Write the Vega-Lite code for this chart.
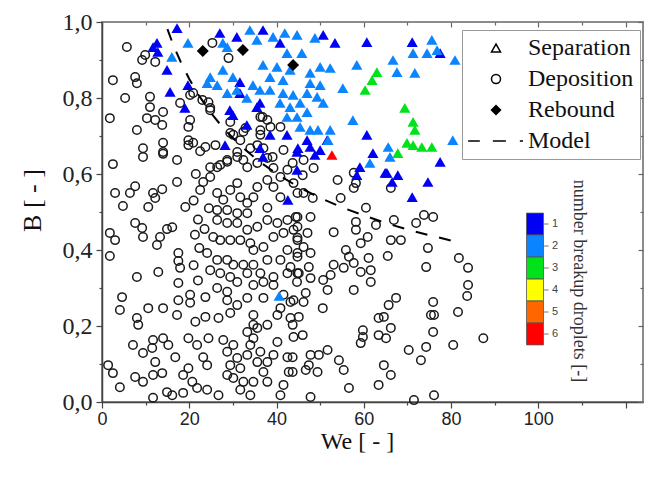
{
  "$schema": "https://vega.github.io/schema/vega-lite/v6.json",
  "width": 541,
  "height": 380,
  "autosize": {"type": "none"},
  "padding": {"left": 102, "top": 22, "right": 2, "bottom": 84},
  "background": "white",
  "config": {"view": {"stroke": "#8c8c8c", "strokeWidth": 2}},
  "datasets": {
    "circles": [
      {"t":"Deposition","we":9.4,"b":0.645},{"t":"Deposition","we":14.0,"b":0.653},{"t":"Deposition","we":17.2,"b":0.637},{"t":"Deposition","we":2.5,"b":0.626},{"t":"Deposition","we":17.2,"b":0.579},{"t":"Deposition","we":3.0,"b":0.55},{"t":"Deposition","we":7.6,"b":0.568},{"t":"Deposition","we":6.4,"b":0.55},{"t":"Deposition","we":11.7,"b":0.55},{"t":"Deposition","we":13.8,"b":0.56},{"t":"Deposition","we":12.2,"b":0.537},{"t":"Deposition","we":4.8,"b":0.516},{"t":"Deposition","we":10.6,"b":0.513},{"t":"Deposition","we":19.1,"b":0.513},{"t":"Deposition","we":7.6,"b":0.471},{"t":"Deposition","we":9.2,"b":0.458},{"t":"Deposition","we":9.4,"b":0.434},{"t":"Deposition","we":14.9,"b":0.455},{"t":"Deposition","we":16.1,"b":0.46},{"t":"Deposition","we":13.3,"b":0.434},{"t":"Deposition","we":12.6,"b":0.413},{"t":"Deposition","we":1.8,"b":0.445},{"t":"Deposition","we":3.0,"b":0.426},{"t":"Deposition","we":1.8,"b":0.384},{"t":"Deposition","we":17.5,"b":0.392},{"t":"Deposition","we":17.5,"b":0.371},{"t":"Deposition","we":17.9,"b":0.353},{"t":"Deposition","we":12.9,"b":0.342},{"t":"Deposition","we":8.0,"b":0.329},
      {"t":"Deposition","we":22.5,"b":0.558},{"t":"Deposition","we":23.2,"b":0.579},{"t":"Deposition","we":24.8,"b":0.592},{"t":"Deposition","we":26.4,"b":0.618},{"t":"Deposition","we":28.7,"b":0.632},{"t":"Deposition","we":31.0,"b":0.645},{"t":"Deposition","we":33.3,"b":0.618},{"t":"Deposition","we":35.6,"b":0.629},{"t":"Deposition","we":37.9,"b":0.642},{"t":"Deposition","we":39.3,"b":0.616},{"t":"Deposition","we":40.9,"b":0.592},{"t":"Deposition","we":42.5,"b":0.611},{"t":"Deposition","we":37.9,"b":0.584},{"t":"Deposition","we":39.3,"b":0.566},{"t":"Deposition","we":40.9,"b":0.539},{"t":"Deposition","we":43.9,"b":0.576},{"t":"Deposition","we":44.8,"b":0.55},{"t":"Deposition","we":26.4,"b":0.55},{"t":"Deposition","we":27.8,"b":0.532},{"t":"Deposition","we":29.4,"b":0.558},{"t":"Deposition","we":31.0,"b":0.576},{"t":"Deposition","we":31.7,"b":0.539},{"t":"Deposition","we":33.3,"b":0.524},{"t":"Deposition","we":34.7,"b":0.539},{"t":"Deposition","we":35.6,"b":0.566},{"t":"Deposition","we":26.4,"b":0.505},{"t":"Deposition","we":28.7,"b":0.505},{"t":"Deposition","we":31.0,"b":0.497},{"t":"Deposition","we":33.3,"b":0.497},{"t":"Deposition","we":26.4,"b":0.479},{"t":"Deposition","we":28.7,"b":0.471},{"t":"Deposition","we":31.0,"b":0.471},{"t":"Deposition","we":33.3,"b":0.453},{"t":"Deposition","we":35.6,"b":0.461},{"t":"Deposition","we":37.9,"b":0.479},{"t":"Deposition","we":40.2,"b":0.471},{"t":"Deposition","we":42.5,"b":0.479},{"t":"Deposition","we":44.8,"b":0.487},{"t":"Deposition","we":37.9,"b":0.511},{"t":"Deposition","we":25.5,"b":0.434},{"t":"Deposition","we":27.1,"b":0.426},{"t":"Deposition","we":29.4,"b":0.426},{"t":"Deposition","we":31.7,"b":0.426},{"t":"Deposition","we":34.0,"b":0.418},{"t":"Deposition","we":34.7,"b":0.4},{"t":"Deposition","we":37.0,"b":0.408},{"t":"Deposition","we":39.3,"b":0.434},{"t":"Deposition","we":41.6,"b":0.445},{"t":"Deposition","we":43.9,"b":0.453},{"t":"Deposition","we":44.8,"b":0.426},{"t":"Deposition","we":42.5,"b":0.4},{"t":"Deposition","we":44.8,"b":0.392},{"t":"Deposition","we":24.1,"b":0.392},{"t":"Deposition","we":26.4,"b":0.374},{"t":"Deposition","we":28.7,"b":0.374},{"t":"Deposition","we":30.1,"b":0.361},{"t":"Deposition","we":32.4,"b":0.361},{"t":"Deposition","we":34.7,"b":0.361},{"t":"Deposition","we":37.9,"b":0.374},{"t":"Deposition","we":40.9,"b":0.374},{"t":"Deposition","we":43.2,"b":0.355},{"t":"Deposition","we":24.8,"b":0.347},{"t":"Deposition","we":27.1,"b":0.339},{"t":"Deposition","we":29.4,"b":0.329},{"t":"Deposition","we":33.3,"b":0.339},{"t":"Deposition","we":36.3,"b":0.339},{"t":"Deposition","we":39.3,"b":0.329},{"t":"Deposition","we":42.5,"b":0.339},{"t":"Deposition","we":44.8,"b":0.339},
      {"t":"Deposition","we":4.6,"b":0.276},{"t":"Deposition","we":4.1,"b":0.242},{"t":"Deposition","we":10.6,"b":0.247},{"t":"Deposition","we":14.0,"b":0.247},{"t":"Deposition","we":8.0,"b":0.221},{"t":"Deposition","we":8.3,"b":0.203},{"t":"Deposition","we":17.5,"b":0.313},{"t":"Deposition","we":17.5,"b":0.268},{"t":"Deposition","we":17.2,"b":0.229},{"t":"Deposition","we":20.2,"b":0.282},{"t":"Deposition","we":20.2,"b":0.261},{"t":"Deposition","we":23.7,"b":0.276},{"t":"Deposition","we":21.4,"b":0.211},{"t":"Deposition","we":23.7,"b":0.224},{"t":"Deposition","we":26.7,"b":0.221},{"t":"Deposition","we":26.4,"b":0.3},{"t":"Deposition","we":28.7,"b":0.268},{"t":"Deposition","we":28.7,"b":0.29},{"t":"Deposition","we":31.0,"b":0.255},{"t":"Deposition","we":29.4,"b":0.234},{"t":"Deposition","we":33.3,"b":0.274},{"t":"Deposition","we":34.7,"b":0.229},{"t":"Deposition","we":34.7,"b":0.203},{"t":"Deposition","we":37.0,"b":0.274},{"t":"Deposition","we":37.9,"b":0.203},{"t":"Deposition","we":40.2,"b":0.229},{"t":"Deposition","we":40.9,"b":0.247},{"t":"Deposition","we":41.6,"b":0.282},{"t":"Deposition","we":39.3,"b":0.308},{"t":"Deposition","we":43.2,"b":0.263},{"t":"Deposition","we":43.2,"b":0.221},{"t":"Deposition","we":43.7,"b":0.203},{"t":"Deposition","we":31.0,"b":0.316},{"t":"Deposition","we":34.7,"b":0.308},{"t":"Deposition","we":37.0,"b":0.316},{"t":"Deposition","we":7.1,"b":0.15},{"t":"Deposition","we":9.4,"b":0.129},{"t":"Deposition","we":11.5,"b":0.142},{"t":"Deposition","we":11.7,"b":0.163},{"t":"Deposition","we":14.0,"b":0.168},{"t":"Deposition","we":15.2,"b":0.15},{"t":"Deposition","we":12.2,"b":0.105},{"t":"Deposition","we":13.8,"b":0.076},{"t":"Deposition","we":11.7,"b":0.071},{"t":"Deposition","we":9.4,"b":0.053},{"t":"Deposition","we":7.6,"b":0.066},{"t":"Deposition","we":16.8,"b":0.118},{"t":"Deposition","we":4.1,"b":0.039},{"t":"Deposition","we":2.5,"b":0.076},{"t":"Deposition","we":1.4,"b":0.097},{"t":"Deposition","we":19.8,"b":0.168},{"t":"Deposition","we":21.8,"b":0.15},{"t":"Deposition","we":24.4,"b":0.168},{"t":"Deposition","we":23.2,"b":0.118},{"t":"Deposition","we":24.1,"b":0.097},{"t":"Deposition","we":19.8,"b":0.089},{"t":"Deposition","we":18.6,"b":0.071},{"t":"Deposition","we":20.7,"b":0.053},{"t":"Deposition","we":21.8,"b":0.037},{"t":"Deposition","we":18.6,"b":0.024},{"t":"Deposition","we":14.9,"b":0.026},{"t":"Deposition","we":16.1,"b":0.018},{"t":"Deposition","we":11.7,"b":0.011},{"t":"Deposition","we":26.7,"b":0.018},{"t":"Deposition","we":24.1,"b":0.032},{"t":"Deposition","we":27.8,"b":0.163},{"t":"Deposition","we":28.7,"b":0.132},{"t":"Deposition","we":30.1,"b":0.15},{"t":"Deposition","we":31.0,"b":0.116},{"t":"Deposition","we":31.7,"b":0.089},{"t":"Deposition","we":33.3,"b":0.124},{"t":"Deposition","we":34.0,"b":0.15},{"t":"Deposition","we":35.6,"b":0.105},{"t":"Deposition","we":36.3,"b":0.132},{"t":"Deposition","we":37.0,"b":0.079},{"t":"Deposition","we":37.9,"b":0.105},{"t":"Deposition","we":39.3,"b":0.124},{"t":"Deposition","we":40.2,"b":0.158},{"t":"Deposition","we":42.5,"b":0.118},{"t":"Deposition","we":42.8,"b":0.079},{"t":"Deposition","we":30.1,"b":0.063},{"t":"Deposition","we":32.4,"b":0.053},{"t":"Deposition","we":34.7,"b":0.053},{"t":"Deposition","we":37.9,"b":0.053},{"t":"Deposition","we":41.6,"b":0.045},{"t":"Deposition","we":31.7,"b":0.032},{"t":"Deposition","we":34.0,"b":0.018},{"t":"Deposition","we":40.9,"b":0.018},{"t":"Deposition","we":28.7,"b":0.071},{"t":"Deposition","we":29.4,"b":0.097},{"t":"Deposition","we":34.7,"b":0.168},{"t":"Deposition","we":35.6,"b":0.195},{"t":"Deposition","we":33.3,"b":0.184},
      {"t":"Deposition","we":46.2,"b":0.637},{"t":"Deposition","we":48.5,"b":0.616},{"t":"Deposition","we":46.0,"b":0.597},{"t":"Deposition","we":54.0,"b":0.584},{"t":"Deposition","we":57.7,"b":0.603},{"t":"Deposition","we":58.2,"b":0.576},{"t":"Deposition","we":57.7,"b":0.563},{"t":"Deposition","we":66.2,"b":0.563},{"t":"Deposition","we":54.7,"b":0.537},{"t":"Deposition","we":48.3,"b":0.537},{"t":"Deposition","we":46.2,"b":0.55},{"t":"Deposition","we":60.5,"b":0.511},{"t":"Deposition","we":58.2,"b":0.474},{"t":"Deposition","we":58.2,"b":0.453},{"t":"Deposition","we":62.8,"b":0.466},{"t":"Deposition","we":66.9,"b":0.479},{"t":"Deposition","we":72.0,"b":0.471},{"t":"Deposition","we":73.8,"b":0.492},{"t":"Deposition","we":75.9,"b":0.487},{"t":"Deposition","we":53.1,"b":0.447},{"t":"Deposition","we":66.2,"b":0.426},{"t":"Deposition","we":68.5,"b":0.426},{"t":"Deposition","we":60.9,"b":0.434},{"t":"Deposition","we":59.3,"b":0.418},{"t":"Deposition","we":74.7,"b":0.405},{"t":"Deposition","we":65.5,"b":0.384},{"t":"Deposition","we":61.1,"b":0.379},{"t":"Deposition","we":55.9,"b":0.4},{"t":"Deposition","we":56.6,"b":0.382},{"t":"Deposition","we":57.7,"b":0.366},{"t":"Deposition","we":74.3,"b":0.355},{"t":"Deposition","we":81.8,"b":0.379},{"t":"Deposition","we":83.9,"b":0.353},{"t":"Deposition","we":53.1,"b":0.361},{"t":"Deposition","we":55.4,"b":0.353},{"t":"Deposition","we":59.3,"b":0.342},{"t":"Deposition","we":61.6,"b":0.347},{"t":"Deposition","we":44.4,"b":0.487},{"t":"Deposition","we":44.8,"b":0.461},{"t":"Deposition","we":47.8,"b":0.487},{"t":"Deposition","we":47.1,"b":0.445},{"t":"Deposition","we":44.8,"b":0.432},{"t":"Deposition","we":46.2,"b":0.408},{"t":"Deposition","we":47.8,"b":0.392},{"t":"Deposition","we":44.8,"b":0.382},{"t":"Deposition","we":47.4,"b":0.355},{"t":"Deposition","we":45.1,"b":0.339},{"t":"Deposition","we":52.4,"b":0.334},{"t":"Deposition","we":47.8,"b":0.326},
      {"t":"Deposition","we":57.7,"b":0.295},{"t":"Deposition","we":61.6,"b":0.316},{"t":"Deposition","we":50.6,"b":0.247},{"t":"Deposition","we":51.7,"b":0.295},{"t":"Deposition","we":46.7,"b":0.287},{"t":"Deposition","we":46.2,"b":0.263},{"t":"Deposition","we":43.9,"b":0.268},{"t":"Deposition","we":45.1,"b":0.224},{"t":"Deposition","we":46.0,"b":0.176},{"t":"Deposition","we":43.9,"b":0.171},{"t":"Deposition","we":43.7,"b":0.118},{"t":"Deposition","we":43.7,"b":0.079},{"t":"Deposition","we":47.8,"b":0.124},{"t":"Deposition","we":49.7,"b":0.124},{"t":"Deposition","we":51.7,"b":0.137},{"t":"Deposition","we":47.4,"b":0.097},{"t":"Deposition","we":49.4,"b":0.079},{"t":"Deposition","we":46.7,"b":0.084},{"t":"Deposition","we":54.3,"b":0.11},{"t":"Deposition","we":55.4,"b":0.084},{"t":"Deposition","we":56.6,"b":0.037},{"t":"Deposition","we":47.8,"b":0.013},{"t":"Deposition","we":59.8,"b":0.189},{"t":"Deposition","we":59.8,"b":0.171},{"t":"Deposition","we":59.3,"b":0.155},{"t":"Deposition","we":63.4,"b":0.221},{"t":"Deposition","we":64.6,"b":0.224},{"t":"Deposition","we":65.7,"b":0.255},{"t":"Deposition","we":67.4,"b":0.274},{"t":"Deposition","we":66.2,"b":0.195},{"t":"Deposition","we":63.4,"b":0.176},{"t":"Deposition","we":65.1,"b":0.168},{"t":"Deposition","we":64.6,"b":0.097},{"t":"Deposition","we":66.2,"b":0.071},{"t":"Deposition","we":63.4,"b":0.045},{"t":"Deposition","we":70.3,"b":0.137},{"t":"Deposition","we":73.1,"b":0.11},{"t":"Deposition","we":74.3,"b":0.145},{"t":"Deposition","we":75.9,"b":0.263},{"t":"Deposition","we":75.4,"b":0.229},{"t":"Deposition","we":76.1,"b":0.229},{"t":"Deposition","we":75.9,"b":0.184},{"t":"Deposition","we":81.6,"b":0.237},{"t":"Deposition","we":80.5,"b":0.15},{"t":"Deposition","we":83.9,"b":0.308},{"t":"Deposition","we":83.7,"b":0.279},{"t":"Deposition","we":87.4,"b":0.168},{"t":"Deposition","we":71.5,"b":0.005},{"t":"Deposition","we":76.1,"b":0.018},{"t":"Deposition","we":44.7,"b":0.316},{"t":"Deposition","we":50.7,"b":0.321},
      {"t":"Deposition","we":5.7,"b":0.934},{"t":"Deposition","we":9.9,"b":0.913},{"t":"Deposition","we":9.2,"b":0.9},{"t":"Deposition","we":12.2,"b":0.895},{"t":"Deposition","we":2.5,"b":0.847},{"t":"Deposition","we":7.6,"b":0.855},{"t":"Deposition","we":8.0,"b":0.839},{"t":"Deposition","we":5.3,"b":0.8},{"t":"Deposition","we":1.8,"b":0.747},{"t":"Deposition","we":11.0,"b":0.803},{"t":"Deposition","we":11.0,"b":0.776},{"t":"Deposition","we":10.3,"b":0.747},{"t":"Deposition","we":14.0,"b":0.763},{"t":"Deposition","we":12.2,"b":0.742},{"t":"Deposition","we":13.8,"b":0.729},{"t":"Deposition","we":8.0,"b":0.716},{"t":"Deposition","we":17.9,"b":0.787},{"t":"Deposition","we":20.2,"b":0.808},{"t":"Deposition","we":20.2,"b":0.742},{"t":"Deposition","we":19.8,"b":0.724},{"t":"Deposition","we":14.0,"b":0.682},{"t":"Deposition","we":14.0,"b":0.658},{"t":"Deposition","we":19.8,"b":0.676},{"t":"Deposition","we":19.8,"b":0.689},{"t":"Deposition","we":23.7,"b":0.671},{"t":"Deposition","we":26.0,"b":0.676},{"t":"Deposition","we":9.4,"b":0.668},{"t":"Deposition","we":25.3,"b":0.945},{"t":"Deposition","we":29.0,"b":0.905},{"t":"Deposition","we":23.0,"b":0.795},{"t":"Deposition","we":24.8,"b":0.774},{"t":"Deposition","we":24.4,"b":0.789},{"t":"Deposition","we":29.4,"b":0.737},{"t":"Deposition","we":32.9,"b":0.721},{"t":"Deposition","we":36.3,"b":0.75},{"t":"Deposition","we":37.9,"b":0.742},{"t":"Deposition","we":38.6,"b":0.724},{"t":"Deposition","we":40.9,"b":0.724},{"t":"Deposition","we":36.3,"b":0.703},{"t":"Deposition","we":29.4,"b":0.708},{"t":"Deposition","we":31.7,"b":0.689},{"t":"Deposition","we":35.6,"b":0.676},{"t":"Deposition","we":37.0,"b":0.668},{"t":"Deposition","we":34.0,"b":0.668},{"t":"Deposition","we":39.1,"b":0.645},{"t":"Deposition","we":31.0,"b":0.658},{"t":"Deposition","we":28.7,"b":0.637},{"t":"Deposition","we":32.4,"b":0.637},{"t":"Deposition","we":27.1,"b":0.624},{"t":"Deposition","we":24.8,"b":0.618},{"t":"Deposition","we":43.7,"b":0.629},
      {"t":"Deposition","we":20.9,"b":0.813},{"t":"Deposition","we":24.8,"b":0.768},{"t":"Deposition","we":20.9,"b":0.682},{"t":"Deposition","we":22.5,"b":0.66},{"t":"Deposition","we":30.1,"b":0.703},{"t":"Deposition","we":36.8,"b":0.75},{"t":"Deposition","we":36.3,"b":0.715},{"t":"Deposition","we":41.6,"b":0.663},{"t":"Deposition","we":32.4,"b":0.711},
      {"t":"Deposition","we":21.5,"b":0.6},{"t":"Deposition","we":21.0,"b":0.53},{"t":"Deposition","we":22.0,"b":0.48},{"t":"Deposition","we":21.3,"b":0.44},{"t":"Deposition","we":22.3,"b":0.405},{"t":"Deposition","we":21.0,"b":0.36},{"t":"Deposition","we":22.0,"b":0.32},{"t":"Deposition","we":24.5,"b":0.51},{"t":"Deposition","we":23.5,"b":0.455}
    ],
    "tri": [
      {"t":"Separation","n":1,"we":17.2,"b":0.984},{"t":"Separation","n":1,"we":12.6,"b":0.945},{"t":"Separation","n":1,"we":11.7,"b":0.934},{"t":"Separation","n":1,"we":12.8,"b":0.921},{"t":"Separation","n":1,"we":14.9,"b":0.874},{"t":"Separation","n":1,"we":15.6,"b":0.816},{"t":"Separation","n":1,"we":19.0,"b":0.774},{"t":"Separation","n":1,"we":19.7,"b":0.834},{"t":"Separation","n":1,"we":27.0,"b":0.971},{"t":"Separation","n":1,"we":30.9,"b":0.961},{"t":"Separation","n":1,"we":36.9,"b":0.979},{"t":"Separation","n":1,"we":40.8,"b":0.945},{"t":"Separation","n":1,"we":50.7,"b":0.966},{"t":"Separation","n":1,"we":53.4,"b":0.945},{"t":"Separation","n":1,"we":60.7,"b":0.947},{"t":"Separation","n":1,"we":71.1,"b":0.947},{"t":"Separation","n":1,"we":77.5,"b":0.918},{"t":"Separation","n":1,"we":31.6,"b":0.842},{"t":"Separation","n":1,"we":31.6,"b":0.813},{"t":"Separation","n":1,"we":36.2,"b":0.787},{"t":"Separation","n":1,"we":29.3,"b":0.768},{"t":"Separation","n":1,"we":30.0,"b":0.755},{"t":"Separation","n":1,"we":33.2,"b":0.729},{"t":"Separation","n":1,"we":38.5,"b":0.703},{"t":"Separation","n":1,"we":42.4,"b":0.703},{"t":"Separation","n":1,"we":47.0,"b":0.689},{"t":"Separation","n":1,"we":47.7,"b":0.671},{"t":"Separation","n":1,"we":50.0,"b":0.663},{"t":"Separation","n":1,"we":51.6,"b":0.689},{"t":"Separation","n":1,"we":28.2,"b":0.676},{"t":"Separation","n":1,"we":60.7,"b":0.703},{"t":"Separation","n":1,"we":62.1,"b":0.655},{"t":"Separation","n":1,"we":36.2,"b":0.668},{"t":"Separation","n":1,"we":44.9,"b":0.668},{"t":"Separation","n":1,"we":48.8,"b":0.65},{"t":"Separation","n":1,"we":59.1,"b":0.618},{"t":"Separation","n":1,"we":65.3,"b":0.603},{"t":"Separation","n":1,"we":67.8,"b":0.597},{"t":"Separation","n":1,"we":77.5,"b":0.632},{"t":"Separation","n":1,"we":74.7,"b":0.579},{"t":"Separation","n":1,"we":71.1,"b":0.539},{"t":"Separation","n":1,"we":36.9,"b":0.645},{"t":"Separation","n":1,"we":44.7,"b":0.658},{"t":"Separation","n":1,"we":58.4,"b":0.597},{"t":"Separation","n":1,"we":66.5,"b":0.579},{"t":"Separation","n":1,"we":64.9,"b":0.603},{"t":"Separation","n":1,"we":35.5,"b":0.776},{"t":"Separation","n":1,"we":42.6,"b":0.532},{"t":"Separation","n":1,"we":44.7,"b":0.611},
      {"t":"Separation","n":2,"we":16.0,"b":0.908},{"t":"Separation","n":2,"we":19.7,"b":0.945},{"t":"Separation","n":2,"we":27.7,"b":0.945},{"t":"Separation","n":2,"we":28.7,"b":0.934},{"t":"Separation","n":2,"we":33.9,"b":0.979},{"t":"Separation","n":2,"we":35.5,"b":0.953},{"t":"Separation","n":2,"we":39.2,"b":0.961},{"t":"Separation","n":2,"we":41.9,"b":0.971},{"t":"Separation","n":2,"we":42.4,"b":0.918},{"t":"Separation","n":2,"we":44.7,"b":0.966},{"t":"Separation","n":2,"we":48.8,"b":0.958},{"t":"Separation","n":2,"we":45.8,"b":0.918},{"t":"Separation","n":2,"we":75.6,"b":0.953},{"t":"Separation","n":2,"we":71.3,"b":0.918},{"t":"Separation","n":2,"we":74.5,"b":0.918},{"t":"Separation","n":2,"we":76.8,"b":0.926},{"t":"Separation","n":2,"we":80.9,"b":0.9},{"t":"Separation","n":2,"we":66.7,"b":0.9},{"t":"Separation","n":2,"we":58.4,"b":0.887},{"t":"Separation","n":2,"we":67.6,"b":0.868},{"t":"Separation","n":2,"we":71.7,"b":0.866},{"t":"Separation","n":2,"we":24.8,"b":0.855},{"t":"Separation","n":2,"we":27.7,"b":0.874},{"t":"Separation","n":2,"we":30.0,"b":0.855},{"t":"Separation","n":2,"we":36.9,"b":0.887},{"t":"Separation","n":2,"we":40.1,"b":0.882},{"t":"Separation","n":2,"we":43.1,"b":0.874},{"t":"Separation","n":2,"we":38.5,"b":0.855},{"t":"Separation","n":2,"we":41.5,"b":0.847},{"t":"Separation","n":2,"we":36.2,"b":0.821},{"t":"Separation","n":2,"we":38.5,"b":0.821},{"t":"Separation","n":2,"we":41.5,"b":0.813},{"t":"Separation","n":2,"we":43.8,"b":0.808},{"t":"Separation","n":2,"we":40.8,"b":0.787},{"t":"Separation","n":2,"we":43.1,"b":0.776},{"t":"Separation","n":2,"we":45.4,"b":0.787},{"t":"Separation","n":2,"we":47.0,"b":0.813},{"t":"Separation","n":2,"we":49.3,"b":0.803},{"t":"Separation","n":2,"we":47.7,"b":0.839},{"t":"Separation","n":2,"we":50.0,"b":0.834},{"t":"Separation","n":2,"we":52.3,"b":0.879},{"t":"Separation","n":2,"we":50.0,"b":0.882},{"t":"Separation","n":2,"we":47.7,"b":0.866},{"t":"Separation","n":2,"we":55.2,"b":0.826},{"t":"Separation","n":2,"we":50.7,"b":0.787},{"t":"Separation","n":2,"we":47.0,"b":0.763},{"t":"Separation","n":2,"we":45.4,"b":0.724},{"t":"Separation","n":2,"we":47.7,"b":0.716},{"t":"Separation","n":2,"we":49.5,"b":0.716},{"t":"Separation","n":2,"we":52.3,"b":0.716},{"t":"Separation","n":2,"we":51.8,"b":0.689},{"t":"Separation","n":2,"we":57.5,"b":0.742},{"t":"Separation","n":2,"we":26.4,"b":0.834},{"t":"Separation","n":2,"we":24.1,"b":0.839},{"t":"Separation","n":2,"we":28.7,"b":0.813},{"t":"Separation","n":2,"we":30.9,"b":0.821},{"t":"Separation","n":2,"we":33.2,"b":0.8},{"t":"Separation","n":2,"we":34.6,"b":0.834},{"t":"Separation","n":2,"we":65.6,"b":0.671},{"t":"Separation","n":2,"we":66.0,"b":0.645},{"t":"Separation","n":2,"we":80.4,"b":0.689},{"t":"Separation","n":2,"we":61.4,"b":0.629},{"t":"Separation","n":2,"we":44.7,"b":0.75},{"t":"Separation","n":2,"we":42.4,"b":0.75},{"t":"Separation","n":2,"we":40.6,"b":0.279},
      {"t":"Separation","n":3,"we":63.0,"b":0.868},{"t":"Separation","n":3,"we":61.9,"b":0.847},{"t":"Separation","n":3,"we":60.3,"b":0.821},{"t":"Separation","n":3,"we":69.4,"b":0.774},{"t":"Separation","n":3,"we":71.3,"b":0.737},{"t":"Separation","n":3,"we":71.7,"b":0.716},{"t":"Separation","n":3,"we":69.9,"b":0.682},{"t":"Separation","n":3,"we":71.3,"b":0.676},{"t":"Separation","n":3,"we":73.3,"b":0.671},{"t":"Separation","n":3,"we":75.6,"b":0.671},{"t":"Separation","n":3,"we":67.8,"b":0.655},
      {"t":"Separation","n":6,"we":52.7,"b":0.65}
    ],
    "reb": [
      {"t":"Rebound","we":23.1,"b":0.924},{"t":"Rebound","we":32.3,"b":0.926},{"t":"Rebound","we":43.8,"b":0.887}
    ],
    "model": [
      {"we":15,"b":0.981},{"we":16,"b":0.95},{"we":17,"b":0.922},{"we":18,"b":0.896},{"we":20,"b":0.85},{"we":22,"b":0.81},{"we":25,"b":0.76},{"we":28,"b":0.718},{"we":32,"b":0.672},{"we":36,"b":0.633},{"we":40,"b":0.601},{"we":45,"b":0.566},{"we":50,"b":0.537},{"we":55,"b":0.512},{"we":60,"b":0.491},{"we":65,"b":0.471},{"we":70,"b":0.454},{"we":75,"b":0.439},{"we":80,"b":0.425},{"we":82.5,"b":0.418}
    ]
  },
  "layer": [
    {
      "data": {"name": "circles"},
      "mark": {"type": "point", "filled": false, "stroke": "#1a1a1a", "strokeWidth": 1.5, "size": 72, "opacity": 1},
      "encoding": {
        "x": {"field": "we", "type": "quantitative", "scale": {"domain": [0, 124], "nice": false, "zero": false},
          "axis": {"orient": "bottom", "values": [0,10,20,30,40,50,60,70,80,90,100,110,120],
            "labelExpr": "datum.value % 20 === 0 && datum.value <= 100 ? datum.label : ''",
            "tickSize": {"condition": {"test": "datum.value % 20 === 0", "value": 6}, "value": 3},
            "grid": false, "domainColor": "#444", "domainWidth": 1.5, "tickColor": "#444", "tickWidth": 1.2,
            "labelFont": "Liberation Sans", "labelFontSize": 18, "labelColor": "#222", "labelPadding": 2,
            "labelFlush": false, "labelOverlap": false, "labelBound": false,
            "title": "We [ - ]", "titleFont": "Liberation Serif", "titleFontSize": 24, "titleFontWeight": "normal", "titleColor": "#111",
            "titleX": 255, "titleY": 39, "titleBaseline": "middle"}},
        "y": {"field": "b", "type": "quantitative", "scale": {"domain": [0, 1], "nice": false, "zero": false},
          "axis": {"orient": "left", "values": [0,0.1,0.2,0.3,0.4,0.5,0.6,0.7,0.8,0.9,1.0],
            "labelExpr": "round(datum.value*10) % 2 === 0 ? replace(format(datum.value, '.1f'), '.', ',') : ''",
            "tickSize": {"condition": {"test": "round(datum.value*10) % 2 === 0", "value": 6}, "value": 3},
            "grid": false, "domainColor": "#444", "domainWidth": 1.5, "tickColor": "#444", "tickWidth": 1.2,
            "labelFont": "Liberation Serif", "labelFontSize": 24, "labelColor": "#222", "labelPadding": 4,
            "labelFlush": false, "labelOverlap": false, "labelBound": false,
            "title": "B [ - ]", "titleFont": "Liberation Serif", "titleFontSize": 26, "titleFontWeight": "normal", "titleColor": "#111",
            "titleX": -70, "titleY": 178, "titleBaseline": "middle", "titleAlign": "center"}},
        "shape": {"field": "t", "type": "nominal",
          "scale": {"domain": ["Separation", "Deposition", "Rebound", "Model"], "range": ["triangle-up", "circle", "M-1,0L0,-1L1,0L0,1ZM-0.75,0L0,-0.75L0.75,0L0,0.75ZM-0.5,0L0,-0.5L0.5,0L0,0.5ZM-0.25,0L0,-0.25L0.25,0L0,0.25Z", "M-6.2,0H-3.6M-0.7,0H2.2M5.3,0H6"]},
          "legend": {"orient": "none", "legendX": 360, "legendY": 8, "title": null, "padding": 6,
            "symbolOffset": 16, "symbolSize": 81, "labelFont": "Liberation Serif", "labelFontSize": 24, "labelColor": "#111",
            "labelOffset": 20, "rowPadding": 7, "strokeColor": "#999", "fillColor": "white",
            "symbolStrokeColor": "black", "symbolStrokeWidth": 1.5,
            "encoding": {"symbols": {
              "stroke": {"value": "black"},
              "strokeWidth": {"value": 1.5},
              "opacity": {"value": 1}}}}}
      }
    },
    {
      "data": {"name": "tri"},
      "mark": {"type": "point", "filled": true, "size": 125, "opacity": 1, "strokeWidth": 0},
      "encoding": {
        "x": {"field": "we", "type": "quantitative",
          "axis": {"orient": "top", "values": [0,10,20,30,40,50,60,70,80,90,100,110,120], "labels": false, "domain": false, "grid": false, "title": null,
            "tickColor": "#666", "tickWidth": 1.2,
            "tickSize": {"condition": {"test": "datum.value % 20 === 0", "value": -5}, "value": -3}}},
        "y": {"field": "b", "type": "quantitative",
          "axis": {"orient": "right", "values": [0,0.1,0.2,0.3,0.4,0.5,0.6,0.7,0.8,0.9,1.0], "labels": false, "domain": false, "grid": false, "title": null,
            "tickColor": "#666", "tickWidth": 1.2,
            "tickSize": {"condition": {"test": "round(datum.value*10) % 2 === 0", "value": -5}, "value": -3}}},
        "shape": {"field": "t", "type": "nominal"},
        "fill": {"field": "n", "type": "ordinal",
          "scale": {"domain": [1, 2, 3, 4, 5, 6], "range": ["#0000f5", "#0a84ff", "#00e21a", "#ffff00", "#ff6600", "#ff0000"]},
          "legend": {"orient": "none", "legendX": 424, "legendY": 193, "direction": "vertical", "padding": 0,
            "title": "number breakup droplets [-]", "titleOrient": "right", "titleAnchor": "middle", "titleLimit": 400,
            "titleFont": "Liberation Serif", "titleFontSize": 18, "titleFontWeight": "normal", "titleColor": "#333", "titlePadding": 12,
            "symbolType": "M-1,-1.28H1V1.28H-1ZM1,0H1.6", "symbolSize": 289, "rowPadding": -4,
            "symbolStrokeColor": "#555", "symbolStrokeWidth": 0.8,
            "labelFont": "Liberation Sans", "labelFontSize": 11, "labelColor": "#444", "labelOffset": 8,
            "encoding": {
              "symbols": {"stroke": {"value": "#555"}, "strokeWidth": {"value": 0.8}, "opacity": {"value": 1},
                "shape": {"value": "M-1,-1.28H1V1.28H-1ZM1,0H1.6"}},
              "title": {"angle": {"value": 90}, "align": {"value": "center"}, "baseline": {"value": "bottom"}, "limit": {"value": 400}}}}}
      }
    },
    {
      "data": {"name": "reb"},
      "mark": {"type": "point", "filled": true, "size": 144, "opacity": 1, "color": "black"},
      "encoding": {
        "x": {"field": "we", "type": "quantitative", "axis": null},
        "y": {"field": "b", "type": "quantitative", "axis": null},
        "shape": {"field": "t", "type": "nominal"}
      }
    },
    {
      "data": {"name": "model"},
      "mark": {"type": "line", "color": "black", "strokeWidth": 2, "strokeDash": [12, 12]},
      "encoding": {
        "x": {"field": "we", "type": "quantitative", "axis": null},
        "y": {"field": "b", "type": "quantitative", "axis": null}
      }
    }
  ],
  "resolve": {"axis": {"x": "independent", "y": "independent"}}
}
